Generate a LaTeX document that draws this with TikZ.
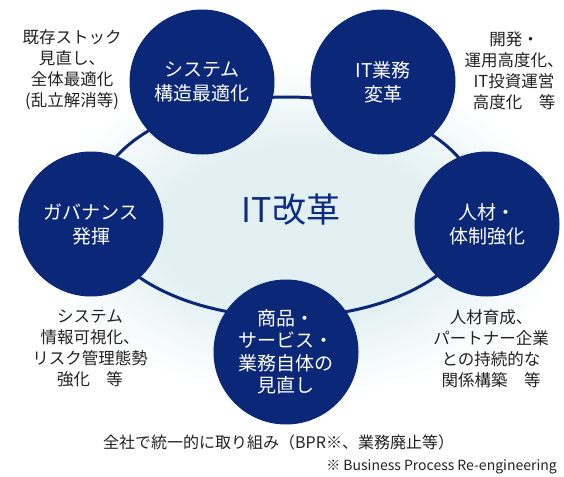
\documentclass[tikz,border=0pt]{standalone}
\usepackage{fontspec}
\setmainfont{Noto Sans CJK JP}
\definecolor{navy}{HTML}{0B2878}
\definecolor{titleblue}{HTML}{0D2B80}
\definecolor{glowc}{HTML}{E2F0F2}
\definecolor{txt}{HTML}{222222}
\pgfdeclareradialshading{glow}{\pgfpoint{0bp}{0bp}}{color(0bp)=(glowc); color(13bp)=(glowc); color(25bp)=(white); color(50bp)=(white)}
\tikzset{
  bubble/.style={circle, fill=navy, minimum size=145pt, inner sep=0pt, text=white, align=center, font=\fontsize{19}{24}\selectfont},
  side/.style={text=txt, align=center, inner sep=0pt, font=\fontsize{16.5}{21}\selectfont},
}
\begin{document}
\begin{tikzpicture}[x=1pt,y=-1pt]
\useasboundingbox (0,0) rectangle (564,476);
\fill[white] (0,0) rectangle (564,476);
\shade[shading=glow] (300,232) ellipse [x radius=265pt, y radius=165pt];
\draw[navy, line width=3pt] (287,207) ellipse [x radius=192pt, y radius=110pt];
\node (title) [text=titleblue, font=\fontsize{34}{36}\selectfont] at (291,210) {IT改革};
\node (sys) [bubble] at (202,82) {システム\\構造最適化};
\node (itg) [bubble] at (383,82) {IT業務\\変革};
\node (jin) [bubble] at (487,224) {人材・\\体制強化};
\node (gov) [bubble] at (91,224) {ガバナンス\\発揮};
\node (sho) [bubble, font=\fontsize{19}{22.5}\selectfont] at (286,352) {商品・\\サービス・\\業務自体の\\見直し};
\node (tsys) [side] at (72,70) {既存ストック\\見直し、\\全体最適化\\(乱立解消等)};
\node (titg) [side] at (514,71) {開発・\\運用高度化、\\IT投資運営\\高度化\quad 等};
\node (tgov) [side] at (90,348) {システム\\情報可視化、\\リスク管理態勢\\強化\quad 等};
\node (tjin) [side] at (491,349) {人材育成、\\パートナー企業\\との持続的な\\関係構築\quad 等};
\node (foot) [text=txt, inner sep=0pt, font=\fontsize{16}{18}\selectfont, anchor=west] at (103,442) {全社で統一的に取り組み（BPR※、業務廃止等）};
\node (note) [text=txt, inner sep=0pt, font=\fontsize{14}{16}\selectfont, anchor=east] at (557,467) {※ Business Process Re-engineering};
\end{tikzpicture}
\end{document}
